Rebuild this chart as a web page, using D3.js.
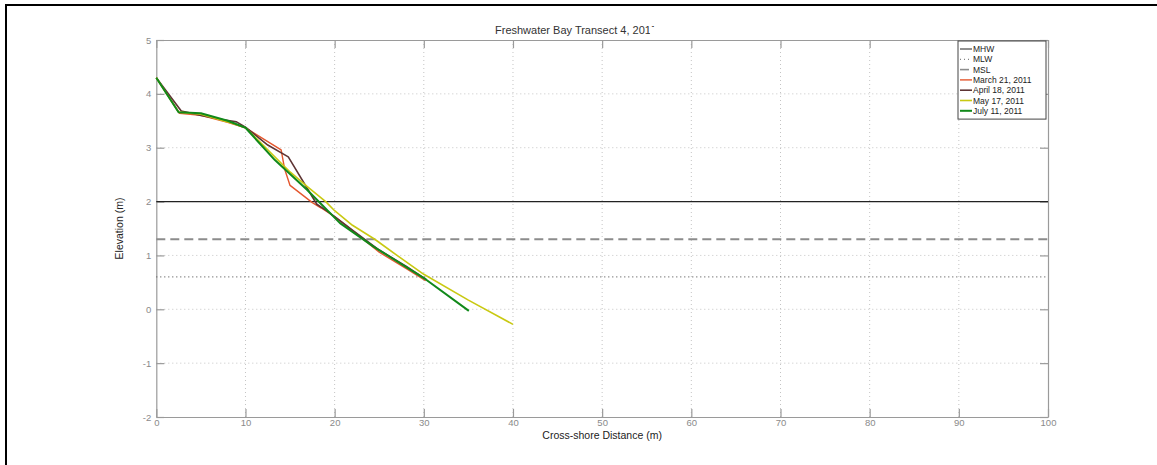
<!DOCTYPE html>
<html>
<head>
<meta charset="utf-8">
<script src="https://cdn.jsdelivr.net/npm/d3@7"></script>
<style>
  html, body { margin: 0; padding: 0; background: #fff; }
  svg { display: block; font-family: "Liberation Sans", Arial, Helvetica, sans-serif; }
</style>
</head>
<body>
<svg id="chart" width="1157" height="465"></svg>
<script>
// Survey profiles along transect 4: [cross-shore distance (m), elevation (m)]
const march21 = [[0,4.3],[2.6,3.64],[5,3.6],[8,3.47],[10,3.37],[14,2.96],[14.4,2.6],[15,2.3],[17.5,1.98],[18.5,1.88],[20,1.72],[23,1.33],[25,1.06],[28,0.76],[30.2,0.53]];
const april18 = [[0,4.3],[2.8,3.68],[5,3.6],[7.5,3.52],[9,3.48],[10,3.38],[12.5,3.05],[14.8,2.83],[18,1.95],[19,1.84],[20,1.72],[22,1.47],[25,1.1],[28,0.8],[30.3,0.55]];
const may17   = [[0,4.3],[2.5,3.66],[5,3.62],[8,3.48],[10,3.37],[15,2.55],[17,2.27],[19,2.0],[20,1.83],[22,1.56],[24.5,1.3],[27,1.0],[30,0.65],[35,0.17],[40,-0.28]];
const july11  = [[0,4.3],[2.5,3.66],[5,3.64],[8,3.5],[10,3.37],[13.3,2.77],[16.9,2.22],[18.4,1.97],[20.6,1.6],[24.4,1.16],[30,0.58],[35.05,-0.03]];

// Tidal datums (m)
const datumNames = ["MHW", "MLW", "MSL"];
const datumLevels = [2.0, 0.6, 1.3];

const seriesNames = ["March 21, 2011", "April 18, 2011", "May 17, 2011", "July 11, 2011"];
const seriesData = [march21, april18, may17, july11];
const seriesColors = ["#e4572e", "#5e3434", "#c9c912", "#11891a"];
const seriesWidths = [1.4, 1.6, 1.6, 2.0];

const xTicks = [0,10,20,30,40,50,60,70,80,90,100];
const yTicks = [-2,-1,0,1,2,3,4,5];

const svg = d3.select("#chart");
const W = 1157, H = 465;
svg.append("rect").attr("width", W).attr("height", H).attr("fill", "#fff");

// Figure frame (top and left edges fall inside the canvas)
svg.append("line").attr("x1", 6).attr("x2", W).attr("y1", 5).attr("y2", 5)
  .attr("stroke", "#000").attr("stroke-width", 2);
svg.append("line").attr("x1", 6).attr("x2", 6).attr("y1", 4).attr("y2", H)
  .attr("stroke", "#000").attr("stroke-width", 2);

const L = 156.3, R = 1048, T = 40, B = 417;
const x = d3.scaleLinear().domain([0, 100]).range([L, R]);
const y = d3.scaleLinear().domain([-2, 5]).range([B, T]);

const axisGray = "#9a9a9a";
const labelGray = "#8a8a8a";
const fmt = d => String(d);

// Dotted grid
const grid = svg.append("g");
xTicks.slice(1, -1).forEach(v => {
  grid.append("line").attr("x1", x(v)).attr("x2", x(v)).attr("y1", T).attr("y2", B)
    .attr("stroke", "#c4c4c4").attr("stroke-width", 1).attr("stroke-dasharray", "1,3");
});
yTicks.slice(1, -1).forEach(v => {
  grid.append("line").attr("x1", L).attr("x2", R).attr("y1", y(v)).attr("y2", y(v))
    .attr("stroke", "#c4c4c4").attr("stroke-width", 1).attr("stroke-dasharray", "1,3");
});

// Axes with inward ticks on all four sides
const tickLen = 8;
const axB = svg.append("g").attr("transform", `translate(0,${B})`)
  .call(d3.axisBottom(x).tickValues(xTicks).tickFormat(fmt).tickSizeInner(-tickLen).tickSizeOuter(0).tickPadding(2));
const axT = svg.append("g").attr("transform", `translate(0,${T})`)
  .call(d3.axisTop(x).tickValues(xTicks).tickSizeInner(-tickLen).tickSizeOuter(0).tickFormat(""));
const axL = svg.append("g").attr("transform", `translate(${L},0)`)
  .call(d3.axisLeft(y).tickValues(yTicks).tickFormat(fmt).tickSizeInner(-tickLen).tickSizeOuter(0).tickPadding(5));
const axR = svg.append("g").attr("transform", `translate(${R},0)`)
  .call(d3.axisRight(y).tickValues(yTicks).tickSizeInner(-tickLen).tickSizeOuter(0).tickFormat(""));
[axB, axT, axL, axR].forEach(a => {
  a.select(".domain").attr("stroke", axisGray).attr("stroke-width", 1.2);
  a.selectAll(".tick line").attr("stroke", axisGray).attr("stroke-width", 1.2);
  a.selectAll(".tick text").attr("fill", labelGray).attr("font-size", 9.5)
    .attr("font-family", "\"Liberation Sans\", Arial, sans-serif");
});

// Datum lines
const datumStyle = {
  MHW: { stroke: "#222", width: 1.2, dash: null },
  MLW: { stroke: "#666", width: 1.2, dash: "1,3" },
  MSL: { stroke: "#8c8c8c", width: 1.8, dash: "9,5" }
};
const datumG = svg.append("g");
datumNames.forEach((n, i) => {
  const s = datumStyle[n];
  datumG.append("line").attr("x1", L).attr("x2", R)
    .attr("y1", y(datumLevels[i])).attr("y2", y(datumLevels[i]))
    .attr("stroke", s.stroke).attr("stroke-width", s.width)
    .attr("stroke-dasharray", s.dash);
});

// Profiles
const line = d3.line().x(d => x(d[0])).y(d => y(d[1]));
seriesData.forEach((d, i) => {
  svg.append("path").datum(d).attr("d", line).attr("fill", "none")
    .attr("stroke", seriesColors[i]).attr("stroke-width", seriesWidths[i])
    .attr("stroke-linejoin", "round");
});

// Axis titles
svg.append("text").attr("x", (L + R) / 2).attr("y", 439).attr("text-anchor", "middle")
  .attr("font-size", 10.5).attr("fill", "#222").text("Cross-shore Distance (m)");
svg.append("text").attr("transform", `translate(123,${(T + B) / 2}) rotate(-90)`)
  .attr("text-anchor", "middle").attr("font-size", 10.5).attr("fill", "#222").text("Elevation (m)");

// Title; the final digit is cut off above its foot
const defs = svg.append("defs");
const title = svg.append("text").attr("x", 495).attr("y", 34)
  .attr("font-size", 11).attr("fill", "#333").text("Freshwater Bay Transect 4, 2011");
const tnode = title.node();
const nChars = tnode.getNumberOfChars();
const lastExt = tnode.getExtentOfChar(nChars - 1);
const tb = tnode.getBBox();
const clip = defs.append("clipPath").attr("id", "titleClip");
clip.append("rect").attr("x", tb.x - 2).attr("y", tb.y - 2)
  .attr("width", lastExt.x - tb.x + 2).attr("height", tb.height + 4);
clip.append("rect").attr("x", lastExt.x).attr("y", tb.y - 2)
  .attr("width", lastExt.width + 2).attr("height", (lastExt.height) * 0.42);
title.attr("clip-path", "url(#titleClip)");

// Legend
const legX = 958, legY = 41, legW = 88, rowH = 10.3;
const legItems = [
  { name: "MHW", stroke: datumStyle.MHW.stroke, width: 1, dash: null },
  { name: "MLW", stroke: datumStyle.MLW.stroke, width: 1, dash: "1,3" },
  { name: "MSL", stroke: datumStyle.MSL.stroke, width: 1.6, dash: "9,5" }
].concat(seriesNames.map((n, i) => ({ name: n, stroke: seriesColors[i], width: seriesWidths[i], dash: null })));
const legH = legItems.length * rowH + 6;
const leg = svg.append("g");
leg.append("rect").attr("x", legX).attr("y", legY).attr("width", legW).attr("height", legH)
  .attr("fill", "#fff").attr("stroke", "#444").attr("stroke-width", 1);
legItems.forEach((it, i) => {
  const cy = legY + 8 + i * rowH;
  leg.append("line").attr("x1", legX + 2).attr("x2", legX + 14).attr("y1", cy).attr("y2", cy)
    .attr("stroke", it.stroke).attr("stroke-width", it.width).attr("stroke-dasharray", it.dash);
  leg.append("text").attr("x", legX + 15).attr("y", cy + 3).attr("font-size", 8.5)
    .attr("fill", "#222").text(it.name);
});
</script>
</body>
</html>
